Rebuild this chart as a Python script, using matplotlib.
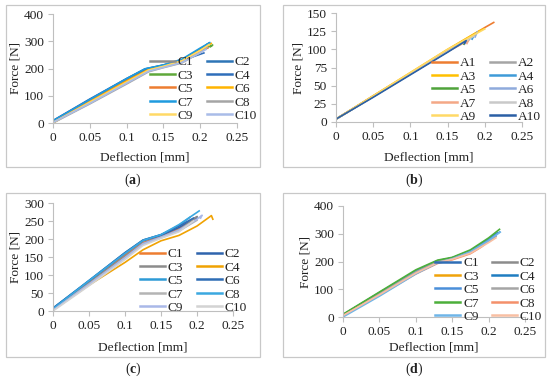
import matplotlib
matplotlib.use("Agg")
import matplotlib.pyplot as plt
from matplotlib.patches import Rectangle

plt.rcParams["font.family"] = ["Liberation Serif", "DejaVu Serif"]
plt.rcParams["mathtext.fontset"] = "custom"
plt.rcParams["mathtext.rm"] = "Liberation Serif"
plt.rcParams["mathtext.bf"] = "Liberation Serif:bold"

W, H = 550, 379

# ---- panel (a) ----
A_LABELS = ["C1", "C2", "C3", "C4", "C5", "C6", "C7", "C8", "C9", "C10"]
A_COLORS = ["#8C8C8C", "#2E75B6", "#5FA83A", "#2F6EBA", "#ED7D31",
            "#FFB400", "#1F9BDE", "#A5A5A5", "#FFD966", "#A9BCE8"]
A_X = [
    [0, 0.05, 0.1, 0.125, 0.15, 0.175, 0.2, 0.21],
    [0, 0.05, 0.1, 0.125, 0.15, 0.175, 0.2, 0.212, 0.209],
    [0, 0.05, 0.1, 0.13, 0.15, 0.175, 0.2, 0.217, 0.214],
    [0, 0.05, 0.1, 0.125, 0.15, 0.175, 0.19, 0.205],
    [0, 0.05, 0.1, 0.13, 0.15, 0.175, 0.2, 0.211, 0.208],
    [0, 0.05, 0.1, 0.13, 0.15, 0.175, 0.2, 0.215],
    [0, 0.05, 0.1, 0.125, 0.15, 0.175, 0.2, 0.213],
    [0, 0.05, 0.1, 0.13, 0.15, 0.175, 0.2, 0.21],
    [0, 0.05, 0.1, 0.13, 0.15, 0.175, 0.2, 0.212],
    [0, 0.05, 0.1, 0.13, 0.15, 0.175, 0.2, 0.208],
]
A_Y = [
    [4, 80, 155, 193, 207, 226, 262, 282],
    [8, 86, 162, 198, 212, 232, 272, 293, 288],
    [3, 80, 155, 196, 207, 228, 266, 286, 280],
    [9, 88, 163, 198, 213, 230, 243, 257],
    [5, 80, 155, 196, 208, 228, 263, 277, 272],
    [0, 78, 153, 196, 210, 230, 268, 292],
    [8, 86, 163, 199, 213, 234, 275, 295],
    [0, 70, 143, 188, 203, 220, 258, 278],
    [2, 76, 150, 194, 208, 228, 266, 288],
    [2, 72, 146, 190, 204, 222, 258, 270],
]

# ---- panel (b) ----
B_LABELS = ["A1", "A2", "A3", "A4", "A5", "A6", "A7", "A8", "A9", "A10"]
B_COLORS = ["#ED7D31", "#A5A5A5", "#FFC000", "#3E9BD8", "#4FA33A",
            "#8FAADC", "#F4A886", "#C9C9C9", "#FFD966", "#2A5FA5"]
B_X = [
    [0, 0.05, 0.1, 0.15, 0.2, 0.212],
    [0, 0.05, 0.1, 0.15, 0.18, 0.178],
    [0, 0.05, 0.1, 0.15, 0.19, 0.198],
    [0, 0.05, 0.1, 0.15, 0.185, 0.183],
    [0, 0.05, 0.1, 0.15, 0.173, 0.172],
    [0, 0.05, 0.1, 0.15, 0.188, 0.19, 0.187],
    [0, 0.05, 0.1, 0.15, 0.178, 0.176],
    [0, 0.05, 0.1, 0.15, 0.185],
    [0, 0.05, 0.1, 0.15, 0.2],
    [0, 0.05, 0.1, 0.15, 0.175, 0.173],
]
B_Y = [
    [4, 36, 67, 99, 130, 137],
    [4, 35, 66, 97, 115, 112],
    [4, 36, 68, 100, 124, 128],
    [4, 35, 66, 97, 118, 114],
    [4, 35, 66, 97, 111, 107],
    [4, 35, 66, 97, 121, 124, 117],
    [4, 35, 66, 97, 112, 108],
    [4, 35, 66, 97, 118],
    [4, 36, 68, 100, 128],
    [4, 34, 65, 96, 112, 108],
]

# ---- panel (c) ----
C_LABELS = ["C1", "C2", "C3", "C4", "C5", "C6", "C7", "C8", "C9", "C10"]
C_COLORS = ["#ED7D31", "#2F64AD", "#8C8C8C", "#F0A202", "#2E9BD6",
            "#2F6DB5", "#B4B4B4", "#3BA8E0", "#A9B8E8", "#D3D3D3"]
C_X = [
    [0, 0.05, 0.1, 0.125, 0.15, 0.175, 0.197],
    [0, 0.05, 0.1, 0.125, 0.15, 0.175, 0.195, 0.2, 0.198],
    [0, 0.05, 0.1, 0.125, 0.15, 0.175, 0.2],
    [0, 0.05, 0.1, 0.125, 0.15, 0.175, 0.2, 0.22, 0.222],
    [0, 0.05, 0.1, 0.125, 0.15, 0.175, 0.19],
    [0, 0.05, 0.1, 0.125, 0.15, 0.175, 0.195],
    [0, 0.05, 0.1, 0.125, 0.15, 0.175, 0.2],
    [0, 0.05, 0.1, 0.125, 0.15, 0.175, 0.203],
    [0, 0.05, 0.1, 0.125, 0.15, 0.175, 0.2, 0.207, 0.205],
    [0, 0.05, 0.1, 0.125, 0.15, 0.175, 0.195],
]
C_Y = [
    [5, 80, 155, 190, 207, 228, 258],
    [7, 83, 160, 195, 210, 232, 255, 262, 256],
    [4, 78, 152, 188, 205, 225, 262],
    [3, 72, 135, 170, 195, 210, 236, 265, 255],
    [8, 85, 162, 197, 212, 238, 260],
    [8, 84, 162, 197, 212, 236, 258],
    [2, 75, 148, 185, 203, 222, 252],
    [6, 84, 160, 196, 212, 240, 278],
    [2, 74, 148, 187, 205, 225, 255, 266, 258],
    [0, 70, 143, 182, 202, 220, 250],
]

# ---- panel (d) ----
D_LABELS = ["C1", "C2", "C3", "C4", "C5", "C6", "C7", "C8", "C9", "C10"]
D_COLORS = ["#2F6DB5", "#8C8C8C", "#F0A30A", "#1F7DC1", "#4A8FD9",
            "#A5A5A5", "#4CAF3A", "#F4906A", "#6FB5E8", "#F8BFA3"]
D_X = [
    [0, 0.05, 0.1, 0.13, 0.15, 0.175, 0.2, 0.21],
    [0, 0.05, 0.1, 0.13, 0.15, 0.175, 0.2, 0.21],
    [0, 0.05, 0.1, 0.13, 0.15, 0.175, 0.2, 0.21],
    [0, 0.05, 0.1, 0.13, 0.15, 0.175, 0.2, 0.212],
    [0, 0.05, 0.1, 0.13, 0.15, 0.175, 0.2, 0.215],
    [0, 0.05, 0.1, 0.13, 0.15, 0.175, 0.2, 0.21],
    [0, 0.05, 0.1, 0.13, 0.15, 0.175, 0.2, 0.215],
    [0, 0.05, 0.1, 0.13, 0.15, 0.175, 0.19, 0.195],
    [0, 0.05, 0.1, 0.13, 0.15, 0.175, 0.2, 0.216],
    [0, 0.05, 0.1, 0.13, 0.15, 0.175, 0.2, 0.21],
]
D_Y = [
    [8, 88, 166, 203, 213, 238, 278, 300],
    [6, 85, 163, 200, 212, 235, 275, 292],
    [8, 87, 165, 202, 213, 237, 277, 298],
    [8, 87, 166, 202, 213, 238, 280, 303],
    [7, 86, 165, 202, 213, 238, 280, 306],
    [6, 84, 162, 200, 211, 234, 273, 290],
    [10, 90, 170, 205, 215, 242, 285, 316],
    [5, 78, 155, 193, 206, 228, 252, 262],
    [0, 75, 155, 195, 210, 235, 275, 306],
    [5, 80, 158, 196, 208, 230, 268, 285],
]

X_TICKS = [0, 0.05, 0.1, 0.15, 0.2, 0.25]
X_TICKLABELS = ["0", "0.05", "0.1", "0.15", "0.2", "0.25"]

AXIS_GRAY = "#BFBFBF"
TEXT = "#222222"
FS = 9.6


def px_axes(fig, left, right, bottom, top):
    return fig.add_axes([left / W, 1 - bottom / H, (right - left) / W, (bottom - top) / H])


def draw_panel(fig, box, rect, xs, ys, labels, colors, yticks, leg_xy, tag, xlabel_y, tag_y):
    bx0, by0, bx1, by1 = box
    fig.patches.append(Rectangle((bx0 / W, 1 - by1 / H), (bx1 - bx0) / W, (by1 - by0) / H,
                                 transform=fig.transFigure, fill=False,
                                 edgecolor="#C8C8C8", linewidth=0.9))
    ax = px_axes(fig, *rect)
    lines = []
    for x, y, lab, c in zip(xs, ys, labels, colors):
        lines += ax.plot(x, y, color=c, linewidth=1.2, label=lab, solid_joinstyle="round")
    ax.set_xlim(0, 0.25)
    ax.set_ylim(yticks[0], yticks[-1])
    ax.set_xticks(X_TICKS)
    ax.set_xticklabels(X_TICKLABELS)
    ax.set_yticks(yticks)
    for s in ["top", "right"]:
        ax.spines[s].set_visible(False)
    for s in ["left", "bottom"]:
        ax.spines[s].set_color(AXIS_GRAY)
        ax.spines[s].set_linewidth(0.8)
    ax.tick_params(direction="out", length=3.5, width=0.8, color=AXIS_GRAY,
                   labelsize=FS, labelcolor=TEXT, pad=3)
    ax.set_facecolor("none")
    ax.set_ylabel("Force [N]", fontsize=FS, color=TEXT, labelpad=2)
    fig.text((rect[0] + rect[1]) / 2 / W, 1 - xlabel_y / H, "Deflection [mm]",
             ha="center", va="center", fontsize=FS, color=TEXT)
    fig.text((bx0 + bx1) / 2 / W, 1 - tag_y / H, r"($\mathbf{" + tag + "}$)",
             ha="center", va="center", fontsize=FS + 0.4, color=TEXT)
    # excel fills the legend row by row
    order = list(range(0, len(lines), 2)) + list(range(1, len(lines), 2))
    leg = ax.legend([lines[i] for i in order], [labels[i] for i in order],
                    ncol=2, loc="upper left", bbox_to_anchor=(leg_xy[0] / W, 1 - leg_xy[1] / H),
                    bbox_transform=fig.transFigure, frameon=False, fontsize=FS,
                    handlelength=1.9, handletextpad=0.2, columnspacing=1.0,
                    labelspacing=0.08, borderpad=0, borderaxespad=0)
    for line in leg.get_lines():
        line.set_linewidth(1.8)
    for t in leg.get_texts():
        t.set_color(TEXT)
    return ax


fig = plt.figure(figsize=(W / 100, H / 100), dpi=100)

draw_panel(fig, (6, 5, 260, 167), (53, 237, 123, 14), A_X, A_Y, A_LABELS, A_COLORS,
           [0, 100, 200, 300, 400], (150, 56), "a", 158, 180)
draw_panel(fig, (283, 5, 545, 167), (336, 522, 122, 13), B_X, B_Y, B_LABELS, B_COLORS,
           [0, 25, 50, 75, 100, 125, 150], (432, 57), "b", 158, 180)
draw_panel(fig, (6, 193, 260, 357), (53, 233, 311, 203), C_X, C_Y, C_LABELS, C_COLORS,
           [0, 50, 100, 150, 200, 250, 300], (140, 248), "c", 347, 369)
draw_panel(fig, (283, 193, 545, 357), (343, 525, 317, 206), D_X, D_Y, D_LABELS, D_COLORS,
           [0, 100, 200, 300, 400], (435, 257), "d", 348, 369)

fig.savefig("out.png", dpi=100, facecolor="white")
